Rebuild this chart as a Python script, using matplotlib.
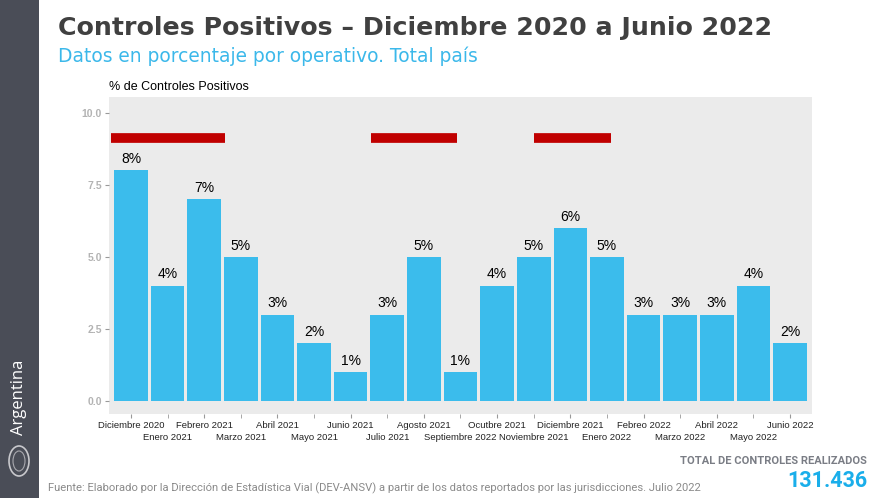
import matplotlib.pyplot as plt
from matplotlib.patches import Ellipse
import numpy as np

meses = ["Diciembre 2020", "Enero 2021", "Febrero 2021", "Marzo 2021", "Abril 2021",
         "Mayo 2021", "Junio 2021", "Julio 2021", "Agosto 2021", "Septiembre 2022",
         "Ocutbre 2021", "Noviembre 2021", "Diciembre 2021", "Enero 2022", "Febreo 2022",
         "Marzo 2022", "Abril 2022", "Mayo 2022", "Junio 2022"]
positivos = [8, 4, 7, 5, 3, 2, 1, 3, 5, 1, 4, 5, 6, 5, 3, 3, 3, 4, 2]

# red segments (start, end) in bar index units, at height 9.13
segmentos_x0 = [-0.55, 6.55, 11.0]
segmentos_x1 = [2.57, 8.9, 13.1]
segmento_y = 9.13

fig = plt.figure(figsize=(8.87, 4.98), dpi=100)
fig.patch.set_facecolor("white")

# sidebar
fig.patches.append(plt.Rectangle((0, 0), 39 / 887, 1, transform=fig.transFigure,
                                 facecolor="#4a4d57", edgecolor="none"))
fig.text(19 / 887, 1 - 397 / 498, "Argentina", rotation=90, color="white",
         fontsize=12, ha="center", va="center", family="Open Sans")
# rough emblem
fig.patches.append(Ellipse((19 / 887, 1 - 461 / 498), 20 / 887, 30 / 498,
                           transform=fig.transFigure, facecolor="none",
                           edgecolor="#c8c8cc", lw=1.2))
fig.patches.append(Ellipse((19 / 887, 1 - 461 / 498), 12 / 887, 20 / 498,
                           transform=fig.transFigure, facecolor="none",
                           edgecolor="#a8a8ae", lw=0.8))

fig.text(58 / 887, 1 - 28 / 498, "Controles Positivos – Diciembre 2020 a Junio 2022",
         fontsize=18.2, fontweight="bold", color="#404040", ha="left", va="center",
         family="DejaVu Sans")
fig.text(58 / 887, 1 - 56 / 498, "Datos en porcentaje por operativo. Total país",
         fontsize=13.4, color="#3bb8ea", ha="left", va="center", family="DejaVu Sans")

ax = fig.add_axes([109 / 887, 1 - 414 / 498, 703 / 887, 317 / 498])
ax.set_facecolor("#ebebeb")
x = np.arange(len(meses))
ax.bar(x, positivos, width=0.92, color="#3bbcec", zorder=2)
for xi, v in zip(x, positivos):
    ax.text(xi, v + 0.15, f"{v}%", ha="center", va="bottom", fontsize=10, color="black",
            family="Liberation Sans")
for a, b in zip(segmentos_x0, segmentos_x1):
    ax.plot([a, b], [segmento_y, segmento_y], color="#c00000", lw=7,
            solid_capstyle="butt", zorder=3)

ax.set_xlim(-0.6, 18.6)
ax.set_ylim(-0.45, 10.55)
ax.set_yticks([0, 2.5, 5, 7.5, 10])
ax.set_yticklabels(["0.0", "2.5", "5.0", "7.5", "10.0"], fontsize=7.5, color="#b3b3b3",
                   fontweight="bold", family="Liberation Sans")
# staggered month labels: even on the first row, odd on the second
ax.set_xticks(x[::2])
ax.set_xticklabels(meses[::2], fontsize=6.8, color="#222222", family="Liberation Sans")
ax.set_xticks(x[1::2], minor=True)
ax.set_xticklabels(meses[1::2], minor=True, fontsize=6.8, color="#222222",
                   family="Liberation Sans")
ax.tick_params(axis="both", which="both", length=3, color="#999999", pad=2)
ax.tick_params(axis="x", which="minor", pad=10.5)
for s in ax.spines.values():
    s.set_visible(False)

fig.text(109 / 887, 1 - 87 / 498, "% de Controles Positivos", fontsize=9, color="black",
         ha="left", va="center", family="Liberation Sans")

fig.text(48 / 887, 1 - 488 / 498,
         "Fuente: Elaborado por la Dirección de Estadística Vial (DEV-ANSV) a partir de los datos reportados por las jurisdicciones. Julio 2022",
         fontsize=8.1, color="#8a8a8a", ha="left", va="center", family="Roboto")
fig.text(867 / 887, 1 - 461 / 498, "TOTAL DE CONTROLES REALIZADOS", fontsize=8,
         fontweight="bold", color="#7a7d85", ha="right", va="center", family="Roboto")
fig.text(867 / 887, 1 - 481 / 498, "131.436", fontsize=15.5, fontweight="bold",
         color="#1aaeea", ha="right", va="center", family="Roboto")

fig.savefig("out.png", dpi=100)
